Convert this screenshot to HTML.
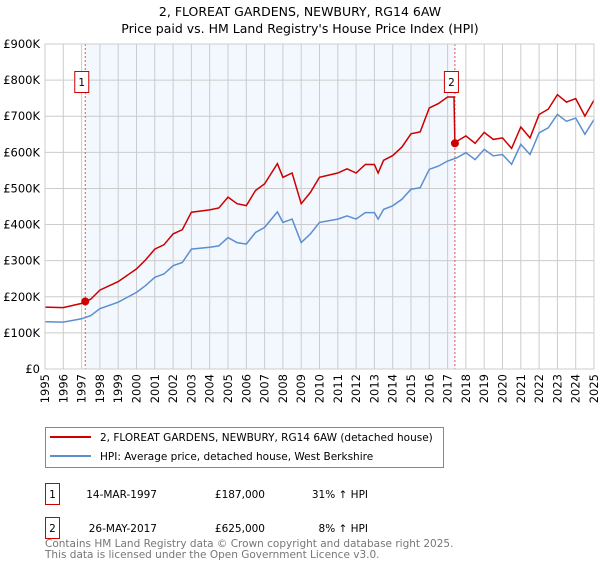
<!DOCTYPE html>
<html><head><meta charset="utf-8"><style>
body{margin:0;background:#fff;font-family:"Liberation Sans","DejaVu Sans",sans-serif;}
svg text{font-family:"DejaVu Sans","Liberation Sans",sans-serif;}
</style></head><body>
<svg id="c" width="600" height="560" xmlns="http://www.w3.org/2000/svg">
<text x="300" y="16" text-anchor="middle" font-size="12.5">2, FLOREAT GARDENS, NEWBURY, RG14 6AW</text>
<text x="300" y="33" text-anchor="middle" font-size="12.5">Price paid vs. HM Land Registry's House Price Index (HPI)</text>
<g id="plot"></g>
<g>
<rect x="45.5" y="427.5" width="398" height="40" fill="#fff" stroke="#888"/>
<line x1="50" y1="437" x2="91" y2="437" stroke="#cc0000" stroke-width="2"/>
<text x="100" y="441" font-size="10.5">2, FLOREAT GARDENS, NEWBURY, RG14 6AW (detached house)</text>
<line x1="50" y1="456" x2="91" y2="456" stroke="#5b8fd0" stroke-width="2"/>
<text x="100" y="460" font-size="10.5">HPI: Average price, detached house, West Berkshire</text>
</g>
<g font-size="10.5">
<rect x="45.5" y="483.5" width="14" height="21" fill="#fff" stroke="#cc0000"/>
<text x="52.5" y="498" text-anchor="middle">1</text>
<text x="157" y="498" text-anchor="end">14-MAR-1997</text>
<text x="265" y="498" text-anchor="end">£187,000</text>
<text x="368" y="498" text-anchor="end">31% ↑ HPI</text>
<rect x="45.5" y="517.5" width="14" height="21" fill="#fff" stroke="#cc0000"/>
<text x="52.5" y="532" text-anchor="middle">2</text>
<text x="157" y="532" text-anchor="end">26-MAY-2017</text>
<text x="265" y="532" text-anchor="end">£625,000</text>
<text x="368" y="532" text-anchor="end">8% ↑ HPI</text>
</g>
<text x="45" y="547" font-size="10.5" fill="#777">Contains HM Land Registry data © Crown copyright and database right 2025.</text>
<text x="45" y="558" font-size="10.5" fill="#777">This data is licensed under the Open Government Licence v3.0.</text>
</svg>
<script>
const hpiYears=[1995,1996,1997,1997.5,1998,1999,2000,2000.5,2001,2001.5,2002,2002.5,2003,2004,2004.5,2005,2005.5,2006,2006.5,2007,2007.7,2008,2008.5,2009,2009.5,2010,2011,2011.5,2012,2012.5,2013,2013.2,2013.5,2014,2014.5,2015,2015.5,2016,2016.5,2017,2017.5,2018,2018.5,2019,2019.5,2020,2020.5,2021,2021.5,2022,2022.5,2023,2023.5,2024,2024.5,2025];
const hpiValues=[131,130,139,148,167,185,212,231,254,263,286,295,332,337,341,364,350,346,378,392,435,406,415,350,374,406,415,424,415,433,433,415,442,452,470,498,502,553,562,576,585,599,580,608,590,594,567,622,594,654,668,705,686,695,650,691];
const saleYears=[1997.2,2017.4];
const salePrices=[187,625];
const saleHpi=[143,580];
const yTicks=[0,100,200,300,400,500,600,700,800,900];
const yTickLabels=["£0","£100K","£200K","£300K","£400K","£500K","£600K","£700K","£800K","£900K"];
const xTicks=[1995,1996,1997,1998,1999,2000,2001,2002,2003,2004,2005,2006,2007,2008,2009,2010,2011,2012,2013,2014,2015,2016,2017,2018,2019,2020,2021,2022,2023,2024,2025];
const L=45,R=594,T=44,B=369;
const X=v=>L+(v-1995)/30*(R-L);
const Y=v=>B-v/900*(B-T);
const g=document.getElementById('plot');
const NS='http://www.w3.org/2000/svg';
function mk(t,a){const e=document.createElementNS(NS,t);for(const k in a)e.setAttribute(k,a[k]);g.appendChild(e);return e;}
let bg=mk('rect',{x:L,y:T,width:R-L,height:B-T,fill:'#fff'});


let sh=mk('rect',{x:X(saleYears[0]),y:T,width:X(saleYears[1])-X(saleYears[0]),height:B-T,fill:'#f3f7fe'});


yTicks.forEach((v,i)=>{
 let l=mk('line',{x1:L,x2:R,y1:Y(v),y2:Y(v),stroke:'#ccc','stroke-width':1});
 
 
 let t=mk('text',{x:L-5,y:Y(v)+4,'text-anchor':'end','font-size':'11.5'});
 t.textContent=yTickLabels[i];
 
 
});
xTicks.forEach(v=>{
 let l=mk('line',{x1:X(v),x2:X(v),y1:T,y2:B,stroke:'#ccc','stroke-width':1});
 
 
 let t=mk('text',{x:0,y:0,'text-anchor':'end','font-size':'11.5',transform:`translate(${X(v)+4},${B+5}) rotate(-90)`});
 t.textContent=v;
 
 
});
saleYears.forEach((s,i)=>{
 let l=mk('line',{x1:X(s),x2:X(s),y1:T,y2:B,stroke:'#e05555','stroke-width':1,'stroke-dasharray':'2,2'});
 
 
});
let hp=hpiYears.map((y,i)=>X(y).toFixed(1)+','+Y(hpiValues[i]).toFixed(1)).join(' ');
let hl=mk('polyline',{points:hp,fill:'none',stroke:'#5b8fd0','stroke-width':1.5});


let rp=[];
hpiYears.forEach((y,i)=>{
 if(y<saleYears[1]){rp.push([y,hpiValues[i]*salePrices[0]/saleHpi[0]]);}
});
rp.push([saleYears[1]-0.05,hpiValues[hpiYears.findIndex(y=>y>=2017)]*salePrices[0]/saleHpi[0]]);
rp.push([saleYears[1],salePrices[1]]);
hpiYears.forEach((y,i)=>{if(y>saleYears[1])rp.push([y,hpiValues[i]*salePrices[1]/saleHpi[1]]);});
let rl=mk('polyline',{points:rp.map(p=>X(p[0]).toFixed(1)+','+Y(p[1]).toFixed(1)).join(' '),fill:'none',stroke:'#cc0000','stroke-width':1.5});


saleYears.forEach((s,i)=>{
 let c=mk('circle',{cx:X(s),cy:Y(salePrices[i]),r:4,fill:'#cc0000'});
 
 
 let b=mk('rect',{x:X(s)-10.5,y:71.5,width:14,height:21,fill:'#fff',stroke:'#cc0000'});
 
 
 let t=mk('text',{x:X(s)-3.5,y:86,'text-anchor':'middle','font-size':'10.5'});
 t.textContent=String(i+1);
 
 
});
let fr=mk('rect',{x:L,y:T,width:R-L,height:B-T,fill:'none',stroke:'#ccc'});


</script>
</body></html>
